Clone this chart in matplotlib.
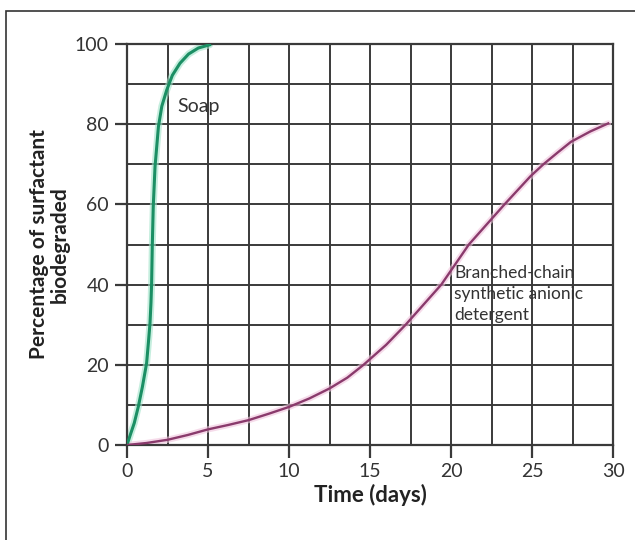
import numpy as np
import matplotlib.pyplot as plt
from matplotlib.patches import Rectangle

plt.rcParams['font.family'] = ['Lato', 'DejaVu Sans']

# soap curve (days, %)
soap_t = [0, 0.2, 0.45, 0.7, 0.95, 1.21, 1.32, 1.42, 1.48, 1.52, 1.56, 1.62, 1.73,
          1.94, 2.15, 2.45, 2.8, 3.27, 3.8, 4.4, 5.1]
soap_p = [0, 2.5, 5.5, 9.6, 14.5, 20.4, 25.5, 30.4, 35.5, 40.4, 49.5, 59.4, 69.4,
          79.4, 84.5, 88.5, 92.2, 95.2, 97.5, 99.0, 99.8]

# branched-chain synthetic anionic detergent
det_t = [0, 1.2, 2.5, 3.75, 5, 6.25, 7.5, 8.75, 10, 11.25, 12.5, 13.6, 14.6,
         16, 17.2, 18.3, 19.4, 20.25, 21.1, 22.2, 23.3, 24.9, 25.7, 26.6,
         27.4, 28.6, 29.7]
det_p = [0, 0.5, 1.3, 2.5, 3.9, 5.0, 6.2, 7.8, 9.5, 11.6, 14.1, 16.8, 20.0,
         25.0, 30.0, 35.0, 40.0, 45.0, 50.0, 55.0, 60.0, 67.0, 70.0, 73.0,
         75.6, 78.2, 80.2]

xticks = [0, 5, 10, 15, 20, 25, 30]
yticks = [0, 20, 40, 60, 80, 100]

grid_col = '#3a3a3a'
green = '#1b8f64'
purple = '#8a3a6c'

fig = plt.figure(figsize=(6.35, 5.4), dpi=100)
ax = fig.add_axes([0.2, 0.1759, 0.7654, 0.7426])

# frame round the figure
fig.patches.append(Rectangle((0.009, -0.05), 1.2, 1.03, transform=fig.transFigure,
                             fill=False, edgecolor='#333333', linewidth=1.2))

ax.set_xlim(0, 30)
ax.set_ylim(0, 100)
for v in np.arange(2.5, 30, 2.5):
    ax.axvline(v, color=grid_col, lw=1.4, zorder=1)
for v in np.arange(10, 100, 10):
    ax.axhline(v, color=grid_col, lw=1.4, zorder=1)
for s in ax.spines.values():
    s.set_color(grid_col)
    s.set_linewidth(1.6)

# soft halo under the curves
ax.plot(soap_t, soap_p, color='#9fe3c8', lw=5, alpha=0.6, zorder=2, solid_capstyle='round')
ax.plot(det_t, det_p, color='#f0c4dc', lw=4.5, alpha=0.6, zorder=2, solid_capstyle='round')
ax.plot(soap_t, soap_p, color=green, lw=2.2, zorder=3)
ax.plot(det_t, det_p, color=purple, lw=1.7, zorder=3)

ax.set_xticks(xticks)
ax.set_yticks(yticks)
ax.tick_params(direction='out', length=9, width=1.6, color=grid_col,
               labelsize=14, labelcolor='#333333', pad=4)

ax.set_xlabel('Time (days)', fontsize=16, fontweight='bold', color='#222222', labelpad=3)
ax.set_ylabel('Percentage of surfactant\nbiodegraded', fontsize=15, fontweight='bold',
              color='#222222', labelpad=4, linespacing=1.0)

ax.text(3.1, 84.5, 'Soap', fontsize=14, color='#333333', va='center', ha='left', zorder=4)
ax.text(20.2, 45.0, 'Branched-chain\nsynthetic anionic\ndetergent', fontsize=12.5,
        color='#333333', va='top', ha='left', linespacing=1.4, zorder=4)

fig.savefig('out.png', dpi=100)
